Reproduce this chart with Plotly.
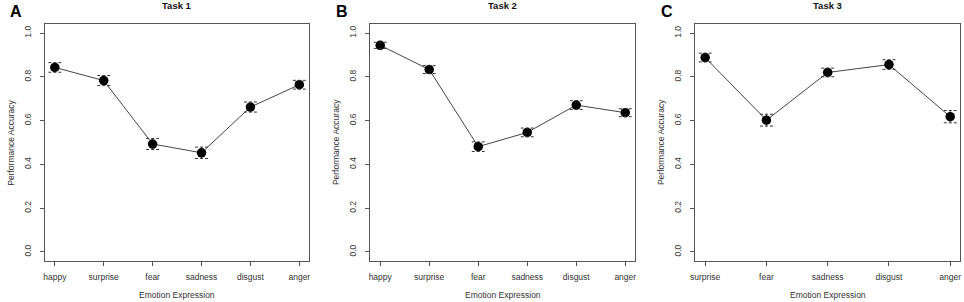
import plotly.graph_objects as go

# ---- data ----
task1_categories = ["happy", "surprise", "fear", "sadness", "disgust", "anger"]
task1_values = [0.843, 0.783, 0.493, 0.453, 0.662, 0.764]
task1_errors = [0.022, 0.023, 0.025, 0.026, 0.023, 0.020]

task2_categories = ["happy", "surprise", "fear", "sadness", "disgust", "anger"]
task2_values = [0.944, 0.833, 0.481, 0.546, 0.671, 0.636]
task2_errors = [0.014, 0.018, 0.022, 0.020, 0.020, 0.018]

task3_categories = ["surprise", "fear", "sadness", "disgust", "anger"]
task3_values = [0.888, 0.602, 0.820, 0.856, 0.618]
task3_errors = [0.020, 0.027, 0.020, 0.022, 0.028]

panel_titles = ["Task 1", "Task 2", "Task 3"]
panel_letters = ["A", "B", "C"]
y_ticks = [0.0, 0.2, 0.4, 0.6, 0.8, 1.0]
x_title = "Emotion Expression"
y_title = "Performance Accuracy"

W, H = 964, 302
FONT = "Liberation Sans, Arial, sans-serif"
TXT = "#333333"
AX = "#555555"

panels = [
    (task1_categories, task1_values, task1_errors, (40.3, 306.0)),
    (task2_categories, task2_values, task2_errors, (367.7, 634.0)),
    (task3_categories, task3_values, task3_errors, (694.7, 961.0)),
]
box_top, box_bottom = 24.3, 260.7
ydom = [1 - box_bottom / H, 1 - box_top / H]
cap_px = 6.5

fig = go.Figure()
layout = dict(
    width=W, height=H, margin=dict(l=0, r=0, t=0, b=0),
    paper_bgcolor="white", plot_bgcolor="white", showlegend=False,
    font=dict(family=FONT, color=TXT, size=8.5),
)
annotations = []

for k, (cats, vals, errs, (x0, x1)) in enumerate(panels):
    n = len(cats)
    idx = list(range(n))
    xa = "x" if k == 0 else f"x{k+1}"
    ya = "y" if k == 0 else f"y{k+1}"
    xkey = "xaxis" if k == 0 else f"xaxis{k+1}"
    ykey = "yaxis" if k == 0 else f"yaxis{k+1}"
    pad = 0.04 * (n - 1)
    xr = [-pad, n - 1 + pad]
    unit_px = (x1 - x0) / (xr[1] - xr[0])
    h = cap_px / unit_px

    fig.add_trace(go.Scatter(
        x=idx, y=vals, xaxis=xa, yaxis=ya, mode="lines+markers",
        line=dict(color="#444444", width=1),
        marker=dict(color="black", size=9.5),
        error_y=dict(type="data", array=errs, visible=True, color="#555555",
                     thickness=1, width=0),
        hoverinfo="skip",
    ))
    cx, cy = [], []
    for i, v, e in zip(idx, vals, errs):
        for yy in (v + e, v - e):
            cx += [i - h, i + h, None]
            cy += [yy, yy, None]
    fig.add_trace(go.Scatter(
        x=cx, y=cy, xaxis=xa, yaxis=ya, mode="lines",
        line=dict(color="#333333", width=1, dash="3px,2px"),
        hoverinfo="skip",
    ))

    layout[xkey] = dict(
        domain=[x0 / W, x1 / W], anchor=ya, range=xr,
        tickmode="array", tickvals=idx, ticktext=cats,
        showgrid=False, zeroline=False, showline=True, linecolor=AX,
        linewidth=1, mirror=True, ticks="outside", ticklen=4,
        ticklabelstandoff=4,
        tickcolor=AX, tickfont=dict(size=8.5, color=TXT, family=FONT),
    )
    layout[ykey] = dict(
        domain=ydom, anchor=xa, range=[-0.04, 1.04],
        tickmode="array", tickvals=y_ticks,
        ticktext=[f"{t:.1f}" for t in y_ticks],
        tickangle=-90, ticklabelstandoff=6,
        showgrid=False, zeroline=False, showline=True, linecolor=AX,
        linewidth=1, mirror=True, ticks="outside", ticklen=4,
        tickcolor=AX, tickfont=dict(size=8.5, color=TXT, family=FONT),
    )
    cxm = (x0 + x1) / 2
    annotations.append(dict(
        x=cxm / W, y=1 - 6 / H, xref="paper", yref="paper",
        text=f"<b>{panel_titles[k]}</b>", showarrow=False,
        font=dict(size=9.5, color="#111111", family=FONT),
        xanchor="center", yanchor="middle"))
    annotations.append(dict(
        x=cxm / W, y=1 - 295 / H, xref="paper", yref="paper",
        text=x_title, showarrow=False,
        font=dict(size=8.5, color=TXT, family=FONT),
        xanchor="center", yanchor="middle"))
    annotations.append(dict(
        x=(x0 - 34) / W, y=(ydom[0] + ydom[1]) / 2, xref="paper", yref="paper",
        text=y_title, showarrow=False, textangle=-90,
        font=dict(size=8.5, color=TXT, family=FONT),
        xanchor="center", yanchor="middle"))
    annotations.append(dict(
        x=(x0 - 37) / W, y=1 - 12 / H, xref="paper", yref="paper",
        text=f"<b>{panel_letters[k]}</b>", showarrow=False,
        font=dict(size=16, color="black", family=FONT),
        xanchor="left", yanchor="middle"))

layout["annotations"] = annotations
fig.update_layout(**layout)
fig.write_html(
    "out.html",
    config={"displayModeBar": False, "staticPlot": True},
    post_script="document.body.style.margin='0';document.body.style.padding='0';document.body.style.overflow='hidden';",
)
